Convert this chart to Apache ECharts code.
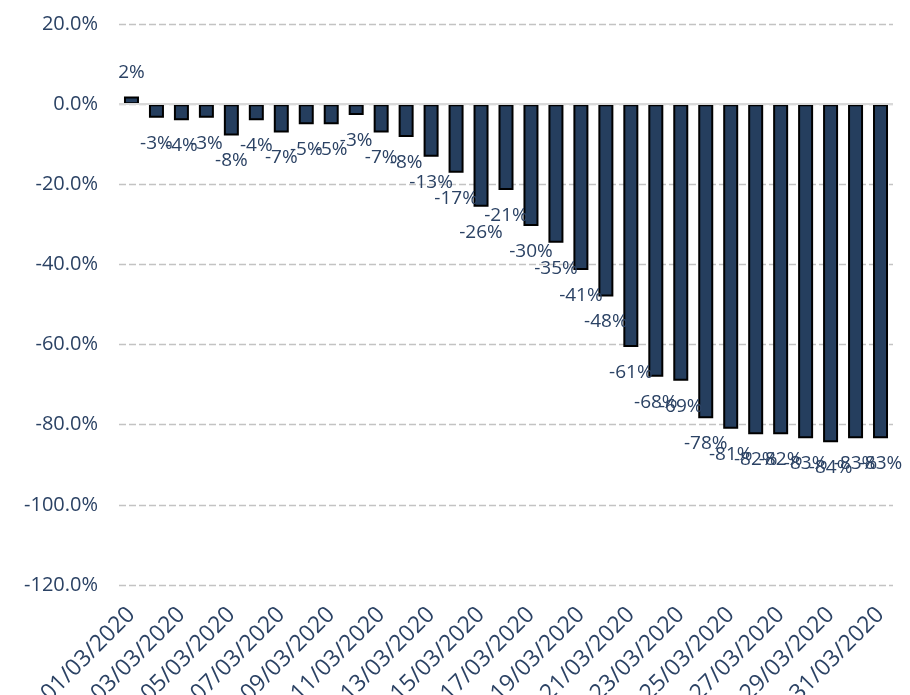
<!DOCTYPE html>
<html>
<head>
<meta charset="utf-8">
<script src="https://cdn.jsdelivr.net/npm/echarts@6/dist/echarts.min.js"></script>
<style>html,body{margin:0;padding:0;background:#fff}#c{width:910px;height:695px}</style>
</head>
<body>
<div id="c"></div>
<script>
const categories = ['01/03/2020','02/03/2020','03/03/2020','04/03/2020','05/03/2020','06/03/2020','07/03/2020','08/03/2020','09/03/2020','10/03/2020','11/03/2020','12/03/2020','13/03/2020','14/03/2020','15/03/2020','16/03/2020','17/03/2020','18/03/2020','19/03/2020','20/03/2020','21/03/2020','22/03/2020','23/03/2020','24/03/2020','25/03/2020','26/03/2020','27/03/2020','28/03/2020','29/03/2020','30/03/2020','31/03/2020'];
const changePct = [1.9,-3.4,-4.0,-3.4,-7.8,-4.0,-7.1,-5.0,-5.0,-2.7,-7.1,-8.2,-13.1,-17.1,-25.6,-21.4,-30.4,-34.6,-41.4,-48.0,-60.6,-68.0,-69.0,-78.4,-81.0,-82.4,-82.4,-83.4,-84.4,-83.4,-83.4];
const yMin = -120, yMax = 20, yStep = 20;

const textColor = '#2b4264';
const font = 'Open Sans';

const chart = echarts.init(document.getElementById('c'));
chart.setOption({
  animation: false,
  grid: { left: 119, right: 17, top: 24, bottom: 110, containLabel: false, outerBoundsMode: 'none' },
  xAxis: {
    type: 'category',
    data: categories,
    axisLine: { show: false },
    axisTick: { show: false },
    axisLabel: {
      interval: 1,
      rotate: 45,
      margin: 26,
      color: textColor,
      fontFamily: font,
      fontSize: 23
    }
  },
  yAxis: {
    type: 'value',
    min: yMin, max: yMax, interval: yStep,
    axisLine: { show: false },
    axisTick: { show: false },
    splitLine: { lineStyle: { color: '#c3c3c3', width: 1.4, type: [7, 3] } },
    axisLabel: {
      margin: 21,
      color: textColor,
      fontFamily: font,
      fontSize: 20,
      formatter: v => v.toFixed(1) + '%'
    }
  },
  series: [{
    type: 'bar',
    barWidth: 15,
    data: changePct.map(v => ({
      value: v,
      label: v >= 0 ? { position: 'top', distance: 14 } : { position: 'bottom', distance: 16 }
    })),
    itemStyle: { color: '#253e5e', borderColor: '#000', borderWidth: 2 },
    label: {
      show: true,
      color: textColor,
      fontFamily: font,
      fontSize: 19,
      formatter: p => Math.round(p.value) + '%'
    },
    markLine: {
      silent: true,
      symbol: 'none',
      label: { show: false },
      lineStyle: { color: '#d9d9d9', width: 2, type: 'solid' },
      data: [{ yAxis: 0 }]
    }
  }]
});
</script>
</body>
</html>
